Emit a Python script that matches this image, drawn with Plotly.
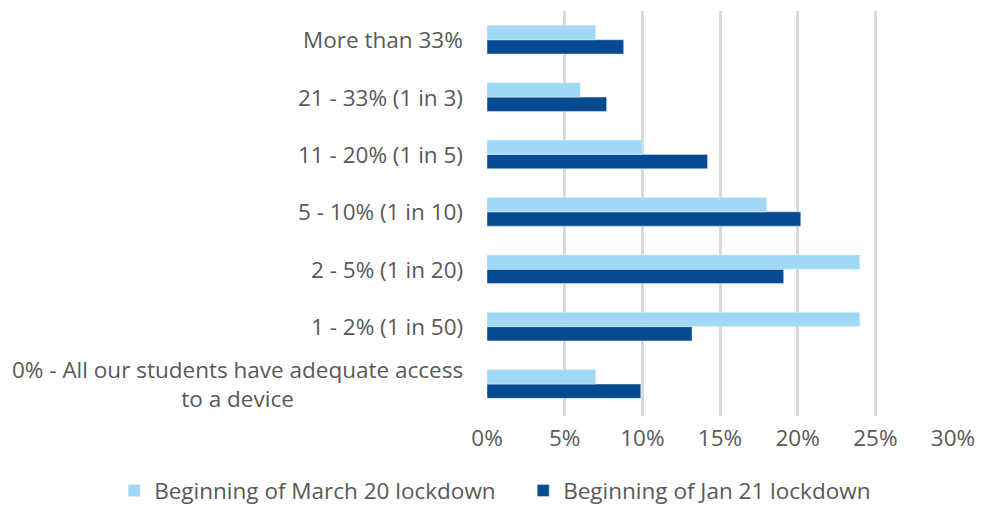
import plotly.graph_objects as go

categories = [
    "0% - All our students have adequate access<br>to a device",
    "1 - 2% (1 in 50)",
    "2 - 5% (1 in 20)",
    "5 - 10% (1 in 10)",
    "11 - 20% (1 in 5)",
    "21 - 33% (1 in 3)",
    "More than 33%",
]
march20 = [7, 24, 24, 18, 10, 6, 7]
jan21 = [9.9, 13.2, 19.1, 20.2, 14.2, 7.7, 8.8]
x_ticks = [0, 5, 10, 15, 20, 25, 30]

LIGHT = "#A0D9F6"
DARK = "#064A91"
TXT = "#595959"
FONT = "Open Sans"
FS = 22.5

fig = go.Figure()
fig.add_trace(go.Bar(y=categories, x=[v / 100 for v in jan21], orientation="h",
                     name="Beginning of Jan 21 lockdown", marker_color=DARK,
                     legendrank=2))
fig.add_trace(go.Bar(y=categories, x=[v / 100 for v in march20], orientation="h",
                     name="Beginning of March 20 lockdown", marker_color=LIGHT,
                     legendrank=1))

for c in categories:
    fig.add_annotation(x=0, xref="paper", y=c, yref="y", text=c, showarrow=False,
                       xanchor="right", xshift=-22, align="center",
                       font=dict(family=FONT, size=FS, color=TXT))

fig.update_layout(
    width=981, height=498,
    margin=dict(l=479, r=36, t=3, b=90, autoexpand=False),
    paper_bgcolor="white", plot_bgcolor="white",
    barmode="group", bargap=0.5, bargroupgap=0,
    font=dict(family=FONT, size=FS, color=TXT),
    showlegend=True,
    legend=dict(orientation="h", xref="paper", yref="paper",
                x=-0.80, xanchor="left", y=-0.185, yanchor="middle",
                font=dict(family=FONT, size=FS, color=TXT),
                itemwidth=30, tracegroupgap=0, entrywidth=364),
    xaxis=dict(range=[0, 0.30], tickvals=[t / 100 for t in x_ticks],
               ticktext=[f"{t}%" for t in x_ticks],
               showgrid=True, gridcolor="#D9D9D9", gridwidth=2.5,
               zeroline=False, showline=False, ticks="",
               ticklabelstandoff=6,
               tickfont=dict(family=FONT, size=FS, color=TXT)),
    yaxis=dict(categoryorder="array", categoryarray=categories,
               showticklabels=False, showgrid=False, zeroline=False,
               showline=False, ticks=""),
)

fig.write_html("out.html")
